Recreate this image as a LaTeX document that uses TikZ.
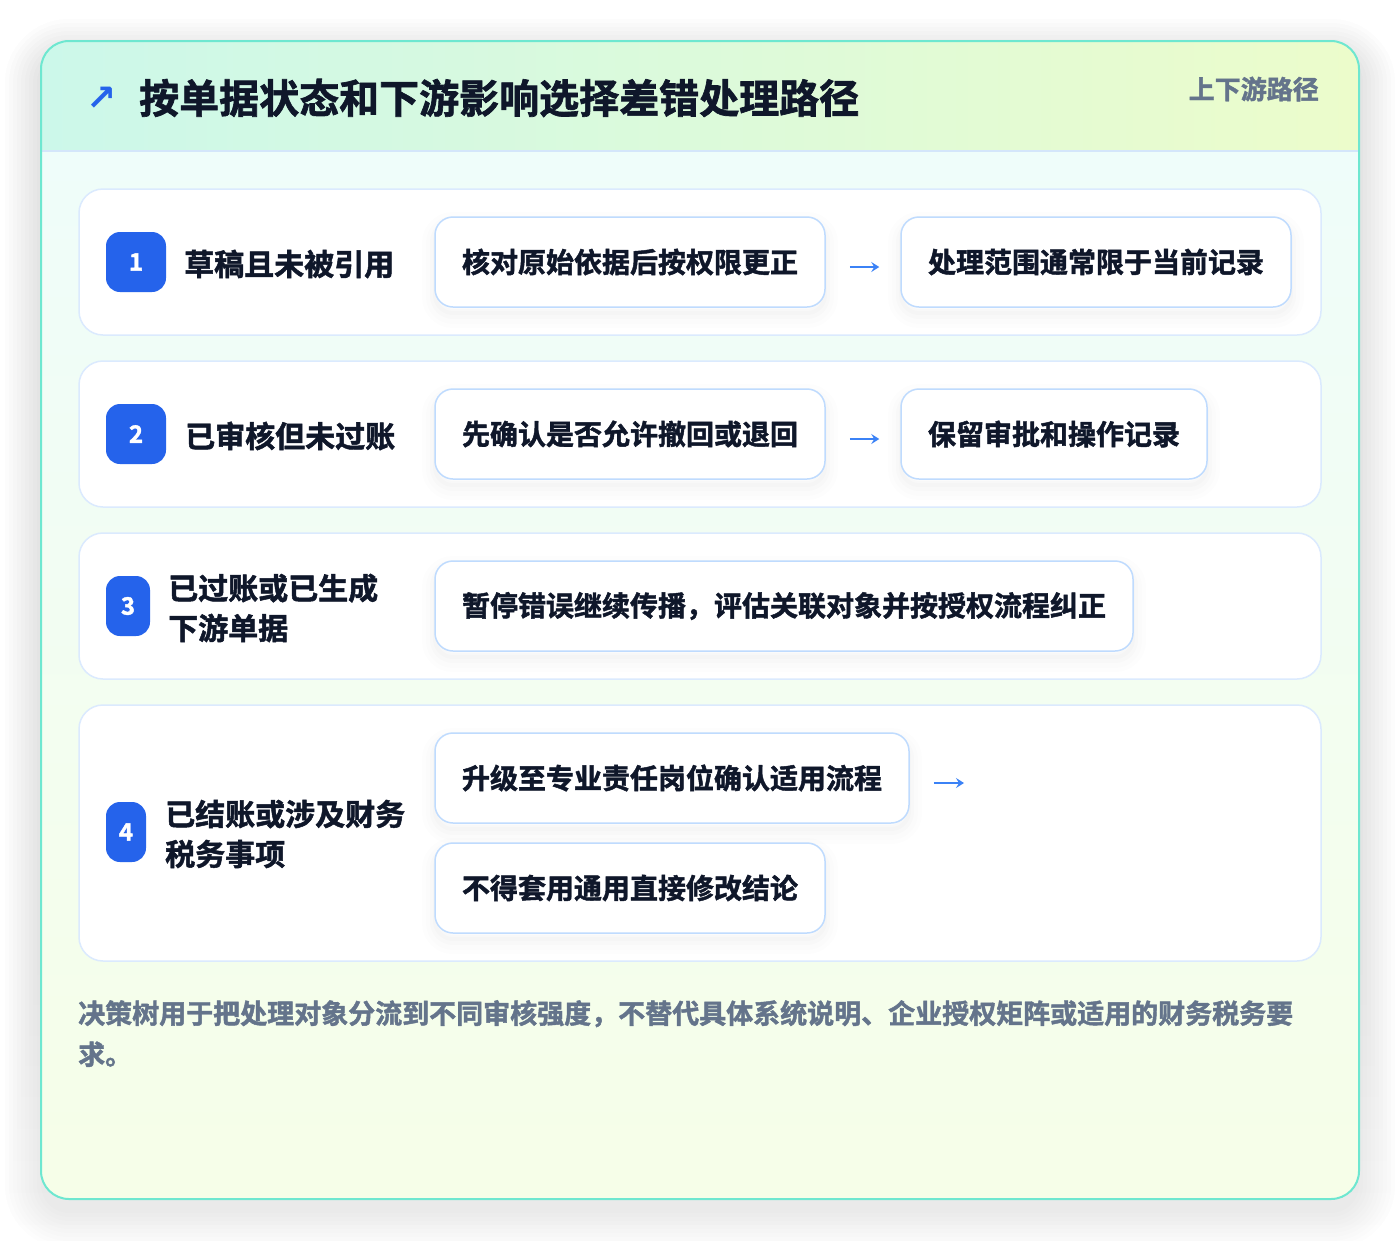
\documentclass[tikz,border=0pt]{standalone}
\usepackage{fontspec}
\setmainfont{Noto Sans CJK SC}
\newfontfamily\heavy{Noto Sans CJK SC Bold}[FakeBold=1.6]
\newfontfamily\symfont{DejaVu Sans Bold}
\usetikzlibrary{arrows.meta}
\definecolor{cardborder}{HTML}{6EE7D0}
\definecolor{headL}{HTML}{CCF8EA}
\definecolor{headR}{HTML}{ECFCCB}
\definecolor{bodyT}{HTML}{EFFDFA}
\definecolor{bodyB}{HTML}{F6FEE8}
\definecolor{headline}{HTML}{D4E6FA}
\definecolor{rowline}{HTML}{DBEAFE}
\definecolor{boxline}{HTML}{BFDBFE}
\definecolor{ink}{HTML}{0F172A}
\definecolor{muted}{HTML}{64748B}
\definecolor{badgeblue}{HTML}{2563EB}
\definecolor{arrowblue}{HTML}{3B82F6}
\definecolor{shade}{HTML}{1E293B}
\begin{document}
\begin{tikzpicture}[x=1pt,y=-1pt,
  softshadow/.style={
    preaction={draw=shade, draw opacity=0.008, line width=26pt, transform canvas={yshift=-8pt}},
    preaction={draw=shade, draw opacity=0.008, line width=18pt, transform canvas={yshift=-8pt}},
    preaction={draw=shade, draw opacity=0.010, line width=10pt, transform canvas={yshift=-7pt}},
    preaction={draw=shade, draw opacity=0.012, line width=4pt, transform canvas={yshift=-6pt}}},
  rowbox/.style={draw=rowline, line width=1.5pt, fill=white, rounded corners=24pt, inner sep=0pt},
  stepbox/.style={softshadow, draw=boxline, line width=1.5pt, fill=white, rounded corners=18pt, inner sep=0pt,
    minimum height=90pt, font=\heavy\fontsize{28}{34}\selectfont, text=ink},
  badge/.style={fill=badgeblue, rounded corners=14pt, inner sep=0pt, minimum height=60pt,
    text=white, font=\heavy\fontsize{24}{26}\selectfont},
  label/.style={anchor=west, inner sep=0pt, text=ink, align=left,
    font=\heavy\fontsize{30}{40}\selectfont},
  flow/.style={draw=arrowblue, line width=2.4pt, -{Stealth[length=8pt,width=10pt,inset=3pt]}}
]
\useasboundingbox (0,0) rectangle (1400,1240);
\fill[white] (0,0) rectangle (1400,1240);
% card shadow: concentric translucent fills
\foreach \e in {36,32,...,0}{
  \fill[shade, fill opacity=0.009, rounded corners={28pt+\e pt}]
    (41-\e,41-\e+14) rectangle (1359+\e,1199+\e+14);
}
% card
\begin{scope}
  \clip[rounded corners=28pt] (41,41) rectangle (1359,1199);
  \fill[white] (41,41) rectangle (1359,1199);
  \shade[top color=bodyT, bottom color=bodyB] (41,151) rectangle (1359,1199);
  \shade[left color=headL, right color=headR] (41,41) rectangle (1359,151);
  \draw[headline, line width=1.5pt] (41,151) -- (1359,151);
\end{scope}
\draw[cardborder, line width=2pt, rounded corners=28pt] (41,41) rectangle (1359,1199);
% header
\node[inner sep=0pt, text=badgeblue, font=\symfont\fontsize{36}{40}\selectfont] (icon) at (102,99) {↗};
\node[anchor=west, inner sep=0pt, text=ink, font=\heavy\fontsize{40}{48}\selectfont] (title) at (139,98) {按单据状态和下游影响选择差错处理路径};
\node[anchor=east, inner sep=0pt, text=muted, font=\heavy\fontsize{26}{30}\selectfont] (tag) at (1319,89) {上下游路径};
% rows
\node[rowbox, minimum width=1242pt, minimum height=146pt] (row1) at (700,262) {};
\node[rowbox, minimum width=1242pt, minimum height=146pt] (row2) at (700,434) {};
\node[rowbox, minimum width=1242pt, minimum height=146pt] (row3) at (700,606) {};
\node[rowbox, minimum width=1242pt, minimum height=256pt] (row4) at (700,833) {};
% row 1
\node[badge, minimum width=60pt] (b1) at (136,262) {1};
\node[label] (l1) at (184,264) {草稿且未被引用};
\node[stepbox, minimum width=390pt] (r1a) at (630,262) {核对原始依据后按权限更正};
\node[stepbox, minimum width=390pt] (r1b) at (1096,262) {处理范围通常限于当前记录};
\draw[flow] ([xshift=24pt,yshift=-5pt]r1a.east) -- ([xshift=-21pt,yshift=-5pt]r1b.west);
% row 2
\node[badge, minimum width=60pt] (b2) at (136,434) {2};
\node[label] (l2) at (185,436) {已审核但未过账};
\node[stepbox, minimum width=390pt] (r2a) at (630,434) {先确认是否允许撤回或退回};
\node[stepbox, minimum width=306pt] (r2b) at (1054,434) {保留审批和操作记录};
\draw[flow] ([xshift=24pt,yshift=-5pt]r2a.east) -- ([xshift=-21pt,yshift=-5pt]r2b.west);
% row 3
\node[badge, minimum width=44pt] (b3) at (128,606) {3};
\node[label] (l3) at (168,608) {已过账或已生成\\下游单据};
\node[stepbox, minimum width=698pt] (r3a) at (784,606) {暂停错误继续传播，评估关联对象并按授权流程纠正};
% row 4
\node[badge, minimum width=40pt] (b4) at (126,832) {4};
\node[label] (l4) at (165,834) {已结账或涉及财务\\税务事项};
\node[stepbox, minimum width=474pt] (r4a) at (672,778) {升级至专业责任岗位确认适用流程};
\node[stepbox, minimum width=390pt] (r4b) at (630,888) {不得套用通用直接修改结论};
\coordinate (r4end) at (964,783);
\draw[flow] ([xshift=24pt,yshift=-5pt]r4a.east) -- (r4end);
% footer
\node[anchor=north west, inner sep=0pt, align=left, text=muted,
  font=\heavy\fontsize{27}{41}\selectfont] (note) at (78,1000)
  {决策树用于把处理对象分流到不同审核强度，不替代具体系统说明、企业授权矩阵或适用的财务税务要\\求。};
\end{tikzpicture}
\end{document}
